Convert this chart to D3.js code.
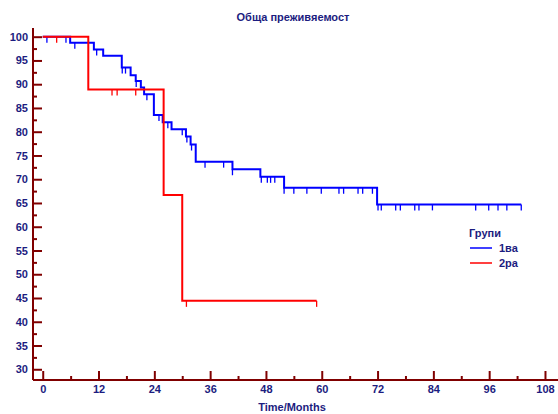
<!DOCTYPE html>
<html>
<head>
<meta charset="utf-8">
<script src="https://cdn.jsdelivr.net/npm/d3@7"></script>
<style>
  body { margin: 0; background: #fff; }
  text { font-family: "Liberation Sans", Arial, sans-serif; font-weight: bold; fill: #1c1c80; }
</style>
</head>
<body>
<div id="chart"></div>
<script>
// group "1ва" - survival steps [month, percent]
var stepsG1 = [[0, 100], [5.9, 98.7], [11, 97.3], [13, 96.0], [17, 93.5], [18.9, 91.9], [20, 90.7],
  [21.1, 89.3], [21.8, 87.9], [23.9, 83.5], [25.8, 82.0], [27.7, 80.5], [30.8, 79.0], [31.8, 77.3],
  [32.9, 73.7], [40.8, 72.1], [46.8, 70.5], [51.9, 68.2], [71.9, 64.7]];
var endG1 = 102.9;
var censG1 = [0.9, 5.0, 6.9, 11.6, 17.1, 17.8, 20.1, 22.4, 25, 26.9, 30, 31, 32, 34.9, 38.9, 40.8,
  47.0, 48.3, 49.0, 49.9, 51.9, 54, 56.8, 59.9, 63.7, 64.7, 67.8, 68.8, 70.9,
  72.1, 72.8, 75.9, 76.9, 80, 80.9, 83.8, 93.1, 95.9, 97.9, 99.8, 102.9];

// group "2ра"
var stepsG2 = [[0, 100], [9.8, 88.9], [26, 66.7], [30, 44.4]];
var endG2 = 58.9;
var censG2 = [3, 14.9, 16, 20, 30.9, 58.9];

var xMajor = [0, 12, 24, 36, 48, 60, 72, 84, 96, 108];
var xMinor = [6, 18, 30, 42, 54, 66, 78, 90, 102];
var yMajor = [30, 35, 40, 45, 50, 55, 60, 65, 70, 75, 80, 85, 90, 95, 100];
var yMinor = [32.5, 37.5, 42.5, 47.5, 52.5, 57.5, 62.5, 67.5, 72.5, 77.5, 82.5, 87.5, 92.5, 97.5];

var groupNames = ["1ва", "2ра"];
var groupColors = ["#0000ff", "#ff0000"];

var width = 558, height = 414;
var axisColor = "#800000";

var svg = d3.select("#chart").append("svg")
  .attr("width", width)
  .attr("height", height);

var x = d3.scaleLinear().domain([-2.09, 110.8]).range([33, 558]);
var y = d3.scaleLinear().domain([27.74, 101.83]).range([380, 28]);

// title
svg.append("text")
  .attr("x", 293).attr("y", 21)
  .attr("text-anchor", "middle")
  .style("font-size", "11px")
  .text("Обща преживяемост");

// y axis
var yAxisG = svg.append("g").attr("transform", "translate(33,0)");
yAxisG.call(d3.axisLeft(y).tickValues(yMajor).tickSizeInner(-9).tickSizeOuter(0).tickPadding(5));
yAxisG.append("g").call(d3.axisLeft(y).tickValues(yMinor).tickSizeInner(-4).tickSizeOuter(0).tickFormat(""));
yAxisG.selectAll(".domain").remove();
yAxisG.append("line").attr("x1", 0).attr("x2", 0).attr("y1", 28).attr("y2", 380);

// x axis
var xAxisG = svg.append("g").attr("transform", "translate(0,380)");
xAxisG.call(d3.axisBottom(x).tickValues(xMajor).tickSizeInner(-9).tickSizeOuter(0).tickPadding(5));
xAxisG.append("g").call(d3.axisBottom(x).tickValues(xMinor).tickSizeInner(-4).tickSizeOuter(0).tickFormat(""));
xAxisG.selectAll(".domain").remove();
xAxisG.append("line").attr("x1", 33).attr("x2", 558).attr("y1", 0).attr("y2", 0);

svg.selectAll(".tick line").attr("stroke", axisColor).attr("stroke-width", 2);
svg.selectAll("g > line").filter(function () { return !this.parentNode.classList.contains("tick"); })
  .attr("stroke", axisColor).attr("stroke-width", 2);
svg.selectAll(".tick text")
  .attr("fill", "#1c1c80")
  .style("font-family", "'Liberation Sans', Arial, sans-serif")
  .style("font-weight", "bold")
  .style("font-size", "11px");

// x title
svg.append("text")
  .attr("x", 292).attr("y", 411)
  .attr("text-anchor", "middle")
  .style("font-size", "11px")
  .text("Time/Months");

// survival curves
var line = d3.line()
  .x(function (d) { return x(d[0]); })
  .y(function (d) { return y(d[1]); })
  .curve(d3.curveStepAfter);

function survAt(steps, t) {
  var s = steps[0][1];
  for (var i = 0; i < steps.length; i++) {
    if (steps[i][0] <= t) s = steps[i][1];
  }
  return s;
}

function drawCurve(steps, end, cens, color) {
  var pts = steps.slice();
  pts.push([end, steps[steps.length - 1][1]]);
  svg.append("path")
    .datum(pts)
    .attr("d", line)
    .attr("fill", "none")
    .attr("stroke", color)
    .attr("stroke-width", 2);

  svg.append("g").selectAll("line")
    .data(cens)
    .enter()
    .append("line")
    .attr("x1", function (d) { return x(d); })
    .attr("x2", function (d) { return x(d); })
    .attr("y1", function (d) { return y(survAt(steps, d)); })
    .attr("y2", function (d) { return y(survAt(steps, d)) + 6; })
    .attr("stroke", color)
    .attr("stroke-width", 1.3);
}

drawCurve(stepsG1, endG1, censG1, groupColors[0]);
drawCurve(stepsG2, endG2, censG2, groupColors[1]);

// legend
var legend = svg.append("g").attr("transform", "translate(469,0)");
legend.append("text")
  .attr("x", 0).attr("y", 237)
  .style("font-size", "11px")
  .text("Групи");
groupNames.forEach(function (name, i) {
  var ly = 248 + i * 15;
  legend.append("line")
    .attr("x1", 1).attr("x2", 23)
    .attr("y1", ly).attr("y2", ly)
    .attr("stroke", groupColors[i])
    .attr("stroke-width", 1.5);
  legend.append("text")
    .attr("x", 30).attr("y", ly + 4)
    .style("font-size", "11px")
    .text(name);
});
</script>
</body>
</html>
